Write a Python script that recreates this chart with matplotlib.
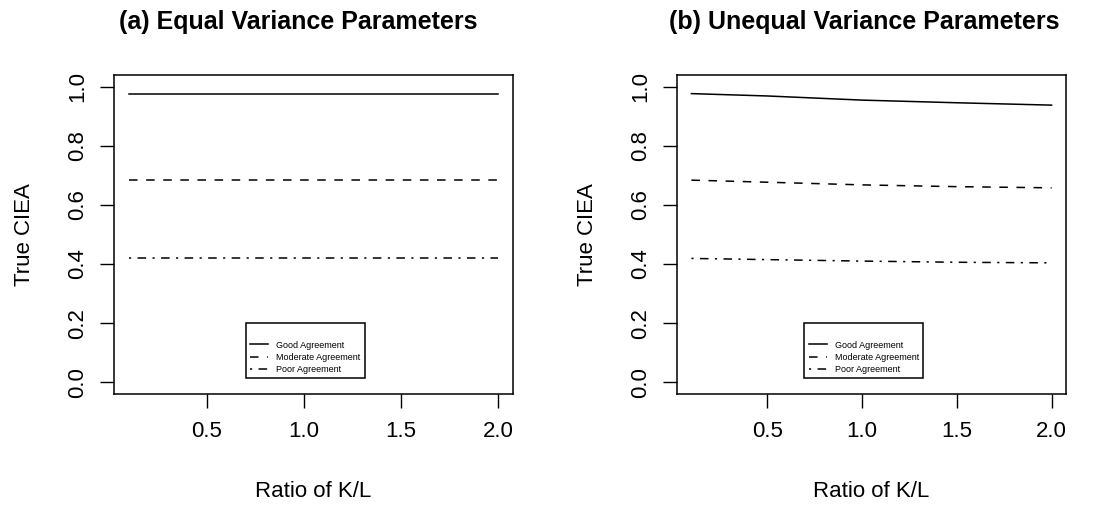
import numpy as np
import matplotlib.pyplot as plt

plt.rcParams['font.family'] = ['Liberation Sans', 'DejaVu Sans']

# ratio K/L
ratio = [0.1, 0.5, 1.0, 1.5, 2.0]

# (a) equal variance parameters
good_eq = [0.975, 0.975, 0.975, 0.975, 0.975]
mod_eq = [0.683, 0.683, 0.683, 0.683, 0.683]
poor_eq = [0.420, 0.420, 0.420, 0.420, 0.420]

# (b) unequal variance parameters
good_uneq = [0.977, 0.969, 0.955, 0.946, 0.938]
mod_uneq = [0.684, 0.677, 0.668, 0.662, 0.658]
poor_uneq = [0.419, 0.415, 0.410, 0.406, 0.404]

labels = ['Good Agreement', 'Moderate Agreement', 'Poor Agreement']
titles = ['(a) Equal Variance Parameters', '(b) Unequal Variance Parameters']

dashed = (0, (5.6, 5.6))
dotdash = (0, (1.4, 4.2, 5.6, 4.2))

fig = plt.figure(figsize=(10.99, 5.08), dpi=100)
ax1 = fig.add_axes([114/1099, 114/508, 399/1099, 319/508])
ax2 = fig.add_axes([677/1099, 114/508, 389/1099, 319/508])

panels = [(ax1, good_eq, mod_eq, poor_eq), (ax2, good_uneq, mod_uneq, poor_uneq)]
for ax, g, m, p in panels:
    ax.plot(ratio, g, color='black', lw=1.1, linestyle='-', label=labels[0])
    ax.plot(ratio, m, color='black', lw=1.1, linestyle=dashed, label=labels[1])
    ax.plot(ratio, p, color='black', lw=1.1, linestyle=dotdash, label=labels[2])
    ax.set_xlim(0.024, 2.076)
    ax.set_ylim(-0.04, 1.04)
    ax.set_xticks([0.5, 1.0, 1.5, 2.0])
    ax.set_xticklabels(['0.5', '1.0', '1.5', '2.0'])
    ax.set_yticks([0.0, 0.2, 0.4, 0.6, 0.8, 1.0])
    ax.set_yticklabels(['0.0', '0.2', '0.4', '0.6', '0.8', '1.0'], rotation=90, va='center')
    ax.tick_params(direction='out', length=10, width=1, labelsize=16)
    ax.tick_params(axis='x', pad=9.5)
    ax.tick_params(axis='y', pad=8.5)
    for s in ax.spines.values():
        s.set_linewidth(1.1)
    ax.set_xlabel('Ratio of K/L', fontsize=16, labelpad=28)
    ax.set_ylabel('True CIEA', fontsize=16, labelpad=23)
    leg = ax.legend(loc='lower center', bbox_to_anchor=(0.48, 0.049), fontsize=6.5,
                    title=' ', title_fontsize=7, fancybox=False, framealpha=1,
                    edgecolor='black', handlelength=2.0, handletextpad=0.9,
                    labelspacing=0.35, borderpad=0.5, borderaxespad=0)
    leg.get_frame().set_linewidth(1.1)

fig.text(298/1099, 1 - 22/508, titles[0], ha='center', va='center', fontsize=18, fontweight='bold')
fig.text(864/1099, 1 - 22/508, titles[1], ha='center', va='center', fontsize=18, fontweight='bold')

fig.savefig('out.png', dpi=100)
